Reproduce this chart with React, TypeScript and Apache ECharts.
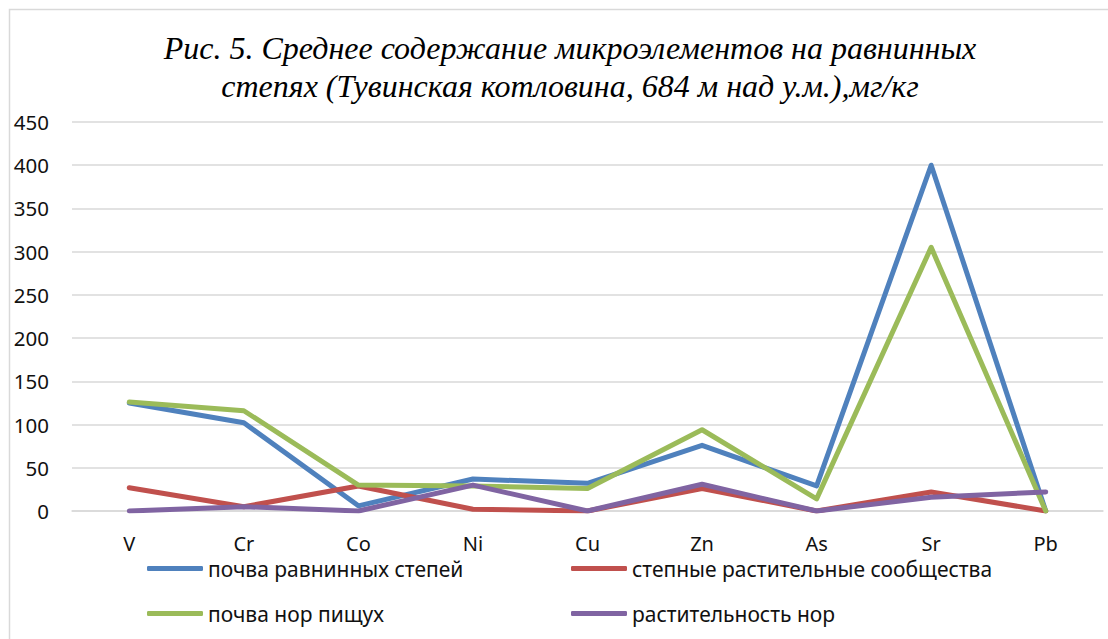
import React, { useEffect, useRef } from "react";
import * as echarts from "echarts";

const categories = ["V", "Cr", "Co", "Ni", "Cu", "Zn", "As", "Sr", "Pb"];
const seriesNames = [
  "почва равнинных степей",
  "степные растительные сообщества",
  "почва нор пищух",
  "растительность нор",
];
const soilPlain = [125, 102, 6, 37, 32, 76, 29, 400, 0];
const steppePlants = [27, 5, 29, 2, 0, 26, 0, 22, 0];
const soilBurrows = [126, 116, 30, 29, 26, 94, 14, 305, 0];
const burrowPlants = [0, 5, 0, 30, 0, 31, 0, 16, 22];
const colors = ["#4f81bd", "#c0504d", "#9bbb59", "#8064a2"];
const titleText =
  "Рис. 5. Среднее содержание микроэлементов на равнинных\nстепях (Тувинская котловина, 684 м над у.м.),мг/кг";

export default function App() {
  const ref = useRef<HTMLDivElement>(null);
  useEffect(() => {
    if (!ref.current) return;
    const chart = echarts.init(ref.current, null, { renderer: "svg" });
    const values = [soilPlain, steppePlants, soilBurrows, burrowPlants];
    const legendPos = [
      { left: 147, top: 558 },
      { left: 571, top: 558 },
      { left: 147, top: 603 },
      { left: 571, top: 603 },
    ];
    const font = "Noto Sans";
    chart.setOption({
      animation: false,
      backgroundColor: "#ffffff",
      title: {
        text: titleText,
        left: 565,
        top: 24,
        textAlign: "center",
        textStyle: {
          fontFamily: "Liberation Serif",
          fontStyle: "italic",
          fontWeight: "normal",
          fontSize: 32,
          lineHeight: 38,
          color: "#000",
        },
      },
      graphic: [
        {
          type: "rect",
          shape: { x: 9.5, y: 9.5, width: 1300, height: 1300 },
          style: { fill: "none", stroke: "#d9d9d9", lineWidth: 1.5 },
          silent: true,
        },
      ],
      legend: seriesNames.map((n, i) => ({
        data: [n],
        left: legendPos[i].left,
        top: legendPos[i].top,
        icon: "roundRect",
        itemWidth: 56,
        itemHeight: 5,
        padding: 0,
        textStyle: { fontFamily: font, fontSize: 21, color: "#111" },
      })),
      grid: { left: 72, right: 5, top: 122, bottom: 128, containLabel: false },
      xAxis: {
        type: "category",
        data: categories,
        boundaryGap: true,
        axisLine: { show: true, lineStyle: { color: "#d9d9d9", width: 1.5 } },
        axisTick: { show: false },
        axisLabel: { fontFamily: font, fontSize: 20, color: "#111", margin: 22 },
        splitLine: { show: false },
      },
      yAxis: {
        type: "value",
        min: 0,
        max: 450,
        interval: 50,
        axisLine: { show: false },
        axisTick: { show: false },
        axisLabel: { fontFamily: font, fontSize: 20.5, color: "#111", margin: 23 },
        splitLine: { show: true, lineStyle: { color: "#d9d9d9", width: 1.5 } },
      },
      series: seriesNames.map((n, i) => ({
        name: n,
        type: "line",
        data: values[i],
        symbol: "none",
        color: colors[i],
        lineStyle: { width: 5, color: colors[i], cap: "round", join: "round" },
      })),
    });
    return () => chart.dispose();
  }, []);
  return (
    <div
      ref={ref}
      style={{ position: "absolute", left: 0, top: 0, width: 1108, height: 639 }}
    />
  );
}
